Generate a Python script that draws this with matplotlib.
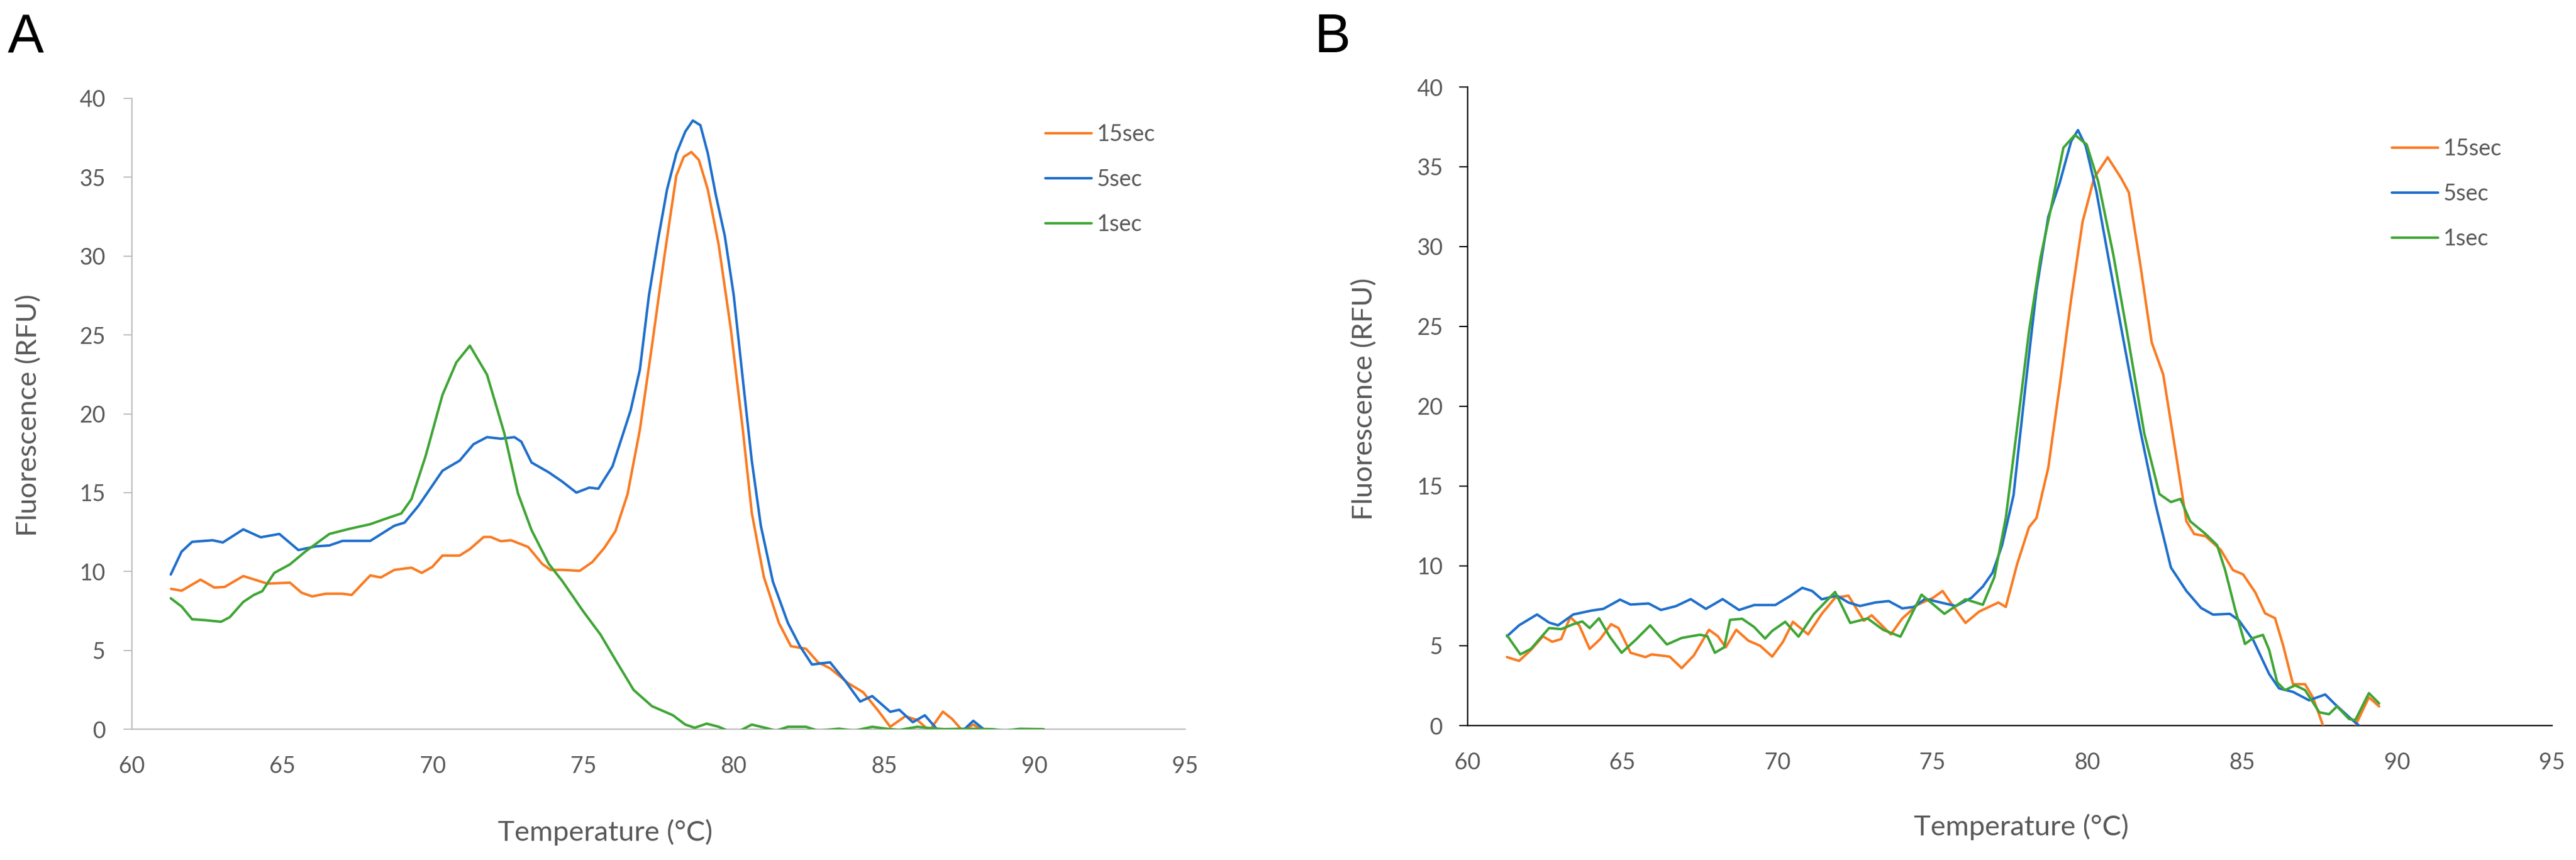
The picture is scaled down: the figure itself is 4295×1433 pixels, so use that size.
import matplotlib
matplotlib.use("Agg")
import matplotlib.pyplot as plt

W, H, DPI = 4295, 1433, 100

labels = ["15sec", "5sec", "1sec"]
colors = ["#F97B22", "#1F6FCB", "#3FA535"]

# ---- panel A: melt curves ----
a_t_15 = [61.3, 61.65, 62.28, 62.74, 63.08, 63.7, 64.5, 65.25, 65.64, 65.99, 66.44, 67.0, 67.3,
          67.92, 68.27, 68.72, 69.29, 69.63, 69.98, 70.32, 70.89, 71.23, 71.69, 71.92, 72.26,
          72.6, 73.17, 73.63, 73.91, 74.31, 74.88, 75.3, 75.7, 76.07, 76.47, 76.88, 77.28,
          77.68, 78.09, 78.34, 78.59, 78.84, 79.14, 79.5, 79.9, 80.3, 80.6, 81.0, 81.5, 81.9,
          82.4, 82.8, 83.2, 83.8, 84.3, 84.8, 85.2, 85.7, 86.1, 86.5, 86.95, 87.26, 87.6,
          87.96, 88.3]
a_f_15 = [8.9, 8.78, 9.48, 8.98, 9.02, 9.71, 9.23, 9.29, 8.65, 8.42, 8.59, 8.59, 8.51,
          9.75, 9.62, 10.1, 10.24, 9.91, 10.29, 11.01, 11.01, 11.42, 12.19, 12.19, 11.92,
          11.98, 11.55, 10.49, 10.1, 10.1, 10.04, 10.6, 11.5, 12.57, 14.9, 19.0, 24.3,
          29.8, 35.1, 36.3, 36.6, 36.1, 34.2, 30.7, 25.4, 19.0, 13.7, 9.65, 6.73, 5.26,
          5.1, 4.24, 3.86, 2.92, 2.34, 1.17, 0.15, 0.82, 0.58, -0.1, 1.11, 0.64, -0.1,
          0.29, -0.1]

a_t_5 = [61.29, 61.65, 62.0, 62.68, 63.02, 63.7, 64.28, 64.9, 65.53, 66.1, 66.56, 67.0, 67.92,
         68.72, 69.06, 69.52, 70.32, 70.89, 71.35, 71.8, 72.26, 72.71, 72.94, 73.28, 73.85,
         74.3, 74.77, 75.2, 75.5, 75.97, 76.57, 76.88, 77.18, 77.48, 77.78, 78.09, 78.39,
         78.64, 78.89, 79.14, 79.4, 79.7, 80.0, 80.3, 80.6, 80.9, 81.3, 81.8, 82.2, 82.6,
         83.2, 83.7, 84.2, 84.6, 85.2, 85.5, 85.95, 86.35, 86.8, 87.5, 87.96, 88.37]
a_f_5 = [9.81, 11.26, 11.88, 11.98, 11.84, 12.67, 12.17, 12.38, 11.36, 11.59, 11.65, 11.94, 11.94,
         12.9, 13.1, 14.16, 16.39, 17.03, 18.07, 18.52, 18.42, 18.52, 18.23, 16.91, 16.29,
         15.7, 15.0, 15.32, 15.25, 16.67, 20.2, 22.8, 27.5, 31.0, 34.2, 36.5, 37.9,
         38.6, 38.3, 36.5, 33.9, 31.3, 27.5, 22.2, 17.0, 12.9, 9.36, 6.73, 5.26, 4.1,
         4.24, 3.07, 1.75, 2.1, 1.1, 1.23, 0.44, 0.88, -0.1, -0.3, 0.53, -0.1]

a_t_1 = [61.29, 61.65, 62.0, 62.45, 62.96, 63.25, 63.7, 64.05, 64.33, 64.73, 65.25, 65.76, 66.56,
         67.24, 67.92, 68.5, 68.95, 69.29, 69.75, 70.32, 70.78, 71.23, 71.8, 72.37, 72.83,
         73.28, 73.85, 74.31, 74.99, 75.57, 76.07, 76.67, 77.28, 77.98, 78.39, 78.7, 79.1,
         79.5, 79.8, 80.2, 80.6, 81.1, 81.4, 81.8, 82.4, 82.8, 83.5, 84.0, 84.6, 85.1, 85.5,
         86.1, 86.6, 87.0, 87.5, 88.0, 88.6, 89.0, 89.5, 90.3]
a_f_1 = [8.3, 7.78, 6.97, 6.91, 6.81, 7.1, 8.07, 8.51, 8.75, 9.91, 10.45, 11.26, 12.38,
         12.71, 13.0, 13.39, 13.68, 14.59, 17.26, 21.2, 23.26, 24.32, 22.48, 18.8, 14.94,
         12.62, 10.49, 9.37, 7.49, 6.0, 4.39, 2.49, 1.46, 0.88, 0.29, 0.09, 0.35,
         0.15, -0.1, -0.1, 0.29, 0.06, -0.1, 0.15, 0.15, -0.1, 0.03, -0.1, 0.15, 0.02, -0.05,
         0.15, 0.05, 0.0, 0.02, 0.02, 0.0, -0.1, 0.02, 0.0]

# ---- panel B: melt curves ----
b_t_15 = [61.27, 61.66, 62.04, 62.43, 62.73, 63.02, 63.31, 63.6, 63.94, 64.28, 64.63, 64.87,
          65.26, 65.74, 65.94, 66.52, 66.91, 67.3, 67.79, 68.08, 68.33, 68.67, 69.06, 69.44,
          69.83, 70.18, 70.5, 70.99, 71.43, 71.86, 72.29, 72.79, 73.04, 73.66, 74.03, 74.52,
          75.02, 75.33, 75.64, 76.07, 76.51, 77.13, 77.37, 77.74, 78.12, 78.36, 78.74, 79.11,
          79.48, 79.85, 80.22, 80.66, 81.09, 81.34, 81.71, 82.08, 82.45, 82.83, 83.2, 83.45,
          83.82, 84.31, 84.7, 85.03, 85.42, 85.74, 86.06, 86.33, 86.64, 87.03, 87.29, 87.61,
          87.9, 88.4, 88.71, 89.09, 89.42]
b_f_15 = [4.29, 4.05, 4.73, 5.59, 5.25, 5.42, 6.79, 6.28, 4.8, 5.42, 6.35, 6.11,
          4.56, 4.29, 4.46, 4.32, 3.6, 4.39, 6.0, 5.59, 4.9, 6.0, 5.32, 5.0,
          4.32, 5.25, 6.5, 5.71, 7.0, 8.0, 8.14, 6.57, 6.91, 5.71, 6.71, 7.57,
          8.0, 8.43, 7.57, 6.43, 7.14, 7.71, 7.43, 10.14, 12.43, 13.0, 16.14, 21.29,
          26.71, 31.57, 34.3, 35.6, 34.3, 33.4, 28.9, 24.0, 22.0, 17.4, 12.8, 12.0,
          11.86, 11.0, 9.74, 9.47, 8.35, 7.03, 6.73, 4.96, 2.59, 2.59, 1.73, 0.0,
          -1.0, -1.0, 0.23, 1.77, 1.2]

b_t_5 = [61.27, 61.66, 62.24, 62.63, 62.92, 63.41, 63.99, 64.38, 64.92, 65.26, 65.84, 66.24,
         66.72, 67.2, 67.69, 68.23, 68.76, 69.25, 69.93, 70.43, 70.8, 71.12, 71.43, 71.92,
         72.29, 72.66, 73.16, 73.59, 74.03, 74.4, 74.77, 75.27, 75.76, 76.26, 76.63, 76.94,
         77.25, 77.62, 77.99, 78.36, 78.74, 79.11, 79.48, 79.7, 79.95, 80.29, 80.72, 81.21,
         81.71, 82.2, 82.7, 83.2, 83.67, 84.06, 84.6, 84.89, 85.36, 85.87, 86.19, 86.64,
         87.16, 87.68, 87.99, 88.45, 88.77, 88.95]
b_f_5 = [5.59, 6.28, 6.96, 6.45, 6.28, 6.96, 7.2, 7.31, 7.89, 7.58, 7.65, 7.24,
         7.48, 7.92, 7.31, 7.92, 7.24, 7.55, 7.55, 8.14, 8.63, 8.43, 7.91, 8.14,
         7.71, 7.49, 7.71, 7.8, 7.34, 7.43, 7.94, 7.71, 7.49, 8.0, 8.71, 9.57,
         11.29, 14.43, 21.0, 27.29, 31.86, 34.0, 36.6, 37.3, 36.3, 33.5, 28.9, 23.7,
         18.5, 13.9, 9.9, 8.43, 7.37, 6.95, 7.0, 6.6, 5.34, 3.23, 2.33, 2.11,
         1.58, 1.95, 1.35, 0.53, 0.0, -0.3]

b_t_1 = [61.27, 61.7, 62.04, 62.63, 63.02, 63.41, 63.7, 63.94, 64.24, 64.58, 64.97, 65.45,
         65.89, 66.43, 66.91, 67.5, 67.74, 67.98, 68.28, 68.47, 68.86, 69.25, 69.6, 69.83,
         70.25, 70.68, 71.18, 71.86, 72.35, 72.91, 73.41, 73.97, 74.65, 75.39, 76.07, 76.63,
         77.0, 77.37, 77.74, 78.12, 78.49, 78.86, 79.23, 79.6, 79.98, 80.35, 80.84, 81.34,
         81.84, 82.33, 82.7, 83.01, 83.32, 83.82, 84.19, 84.45, 84.78, 85.09, 85.36, 85.67,
         85.87, 86.13, 86.38, 86.71, 87.03, 87.49, 87.8, 88.06, 88.45, 88.65, 89.09, 89.42]
b_f_1 = [5.66, 4.46, 4.8, 6.11, 6.04, 6.35, 6.52, 6.11, 6.72, 5.59, 4.56, 5.42,
         6.28, 5.08, 5.49, 5.69, 5.59, 4.56, 4.9, 6.62, 6.69, 6.17, 5.45, 5.93,
         6.5, 5.57, 7.0, 8.37, 6.43, 6.71, 6.0, 5.57, 8.2, 7.0, 7.91, 7.57,
         9.29, 13.0, 18.71, 24.71, 29.29, 32.71, 36.2, 37.0, 36.4, 34.1, 29.5, 24.0,
         18.3, 14.5, 14.0, 14.2, 12.8, 12.0, 11.3, 9.74, 7.22, 5.11, 5.49, 5.68,
         4.74, 2.71, 2.22, 2.52, 2.22, 0.83, 0.71, 1.2, 0.41, 0.34, 2.03, 1.39]

x_ticks = list(range(60, 96, 5))
y_ticks = list(range(0, 41, 5))

plt.rcParams["font.family"] = ["Lato", "DejaVu Sans"]
text_col = "#595959"

fig = plt.figure(figsize=(W / DPI, H / DPI), dpi=DPI)


def px_axes(x0, x1, y_top, y_bot):
    return fig.add_axes([x0 / W, 1 - y_bot / H, (x1 - x0) / W, (y_bot - y_top) / H])


def style(ax, spine_col, ypad):
    ax.set_xlim(60, 95)
    ax.set_ylim(0, 40)
    ax.set_xticks(x_ticks)
    ax.set_yticks(y_ticks)
    for s in ("top", "right"):
        ax.spines[s].set_visible(False)
    for s in ("left", "bottom"):
        ax.spines[s].set_color(spine_col)
        ax.spines[s].set_linewidth(1.7)
        ax.spines[s].set_zorder(1)
    ax.tick_params(axis="x", length=0, pad=32, labelsize=27, labelcolor=text_col)
    ax.tick_params(axis="y", length=10, width=1.5, color=spine_col, pad=ypad,
                   labelsize=27, labelcolor=text_col)


panels = [
    ("A", (220, 1976, 164, 1215), "#BFBFBF", 21.5,
     [(a_t_15, a_f_15), (a_t_5, a_f_5), (a_t_1, a_f_1)],
     (13, 88), (48, 692), (1009, 1387), (1743, 299)),
    ("B", (2447, 4255, 145, 1209), "#000000", 19.5,
     [(b_t_15, b_f_15), (b_t_5, b_f_5), (b_t_1, b_f_1)],
     (2192, 87), (2275, 665), (3370, 1378), (3988, 323)),
]

for letter, box, spine_col, ypad, series, lpos, ylpos, xlpos, legpos in panels:
    ax = px_axes(*box)
    style(ax, spine_col, ypad)
    for (t, f), lab, c in zip(series, labels, colors):
        ax.plot(t, f, color=c, lw=3.0, label=lab, zorder=3,
                solid_joinstyle="round", solid_capstyle="round")
    ax.legend(loc="center left", bbox_to_anchor=(legpos[0] / W, 1 - legpos[1] / H),
              bbox_transform=fig.transFigure, frameon=False, fontsize=27,
              handlelength=2.05, handletextpad=0.25, labelspacing=1.05,
              borderpad=0, borderaxespad=0, labelcolor=text_col)
    fig.text(lpos[0] / W, 1 - lpos[1] / H, letter, fontsize=65,
             family="Liberation Sans", va="baseline", ha="left")
    fig.text(ylpos[0] / W, 1 - ylpos[1] / H, "Fluorescence (RFU)", rotation=90,
             fontsize=34, color=text_col, ha="center", va="center")
    fig.text(xlpos[0] / W, 1 - xlpos[1] / H, "Temperature (\u00b0C)",
             fontsize=34, color=text_col, ha="center", va="center")

fig.savefig("out.png", dpi=DPI)
